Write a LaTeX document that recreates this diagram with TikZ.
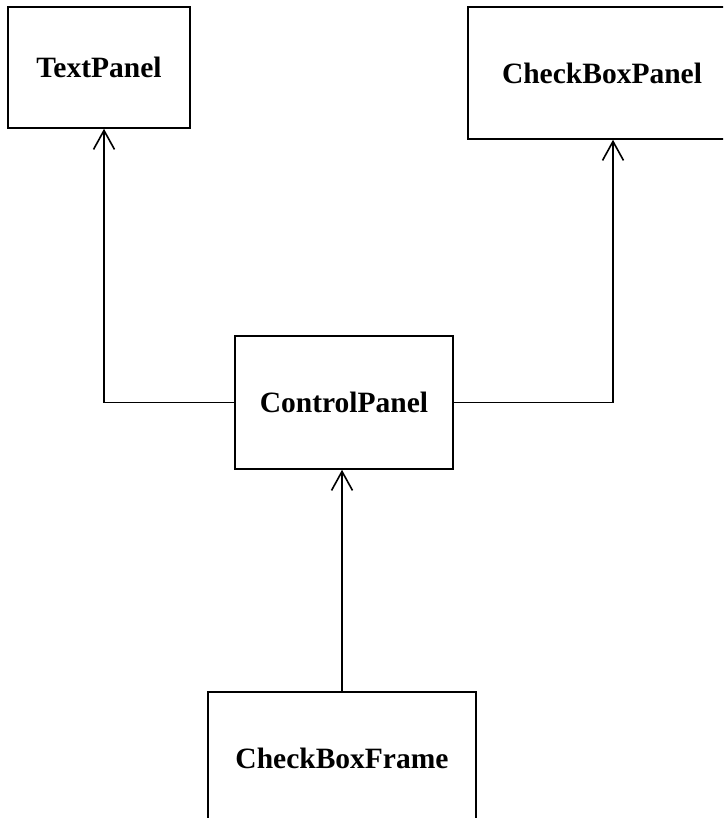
\documentclass[tikz,border=0pt]{standalone}
\usepackage{fontspec}
\setmainfont{Liberation Serif}
\usetikzlibrary{arrows.meta,
                positioning}
\tikzset{class/.style =
   {rectangle,
    draw,
    line width=1.6pt,
    text centered,
    font=\bfseries\fontsize{29.5}{34}\selectfont}}
\tikzset{arrow/.style =
   {draw,
    line width=1.6pt,
    -{Straight Barb[length=19pt,width=21pt]}}}

\begin{document}
\begin{tikzpicture}[x=1pt, y=-1pt]

    \clip (0,0) rectangle (723,818);

    \node [class,
           minimum width=182pt,
           minimum height=121pt] (textpanel) at (99,67.5)
    {TextPanel};

    \node [class,
           minimum width=268pt,
           minimum height=132pt] (checkboxpanel) at (602,73)
    {CheckBoxPanel};

    \node [class,
           minimum width=218pt,
           minimum height=133pt] (controlpanel) at (344,402.5)
    {ControlPanel};

    \node [class,
           minimum width=268pt,
           minimum height=133pt] (checkboxframe) at (342,758.5)
    {CheckBoxFrame};

    \draw [arrow] (controlpanel.west) -| ([xshift=5pt]textpanel.south);
    \draw [arrow] (controlpanel.east) -| ([xshift=11pt]checkboxpanel.south);
    \draw [arrow] (checkboxframe.north) -- (checkboxframe.north |- controlpanel.south);

\end{tikzpicture}
\end{document}
